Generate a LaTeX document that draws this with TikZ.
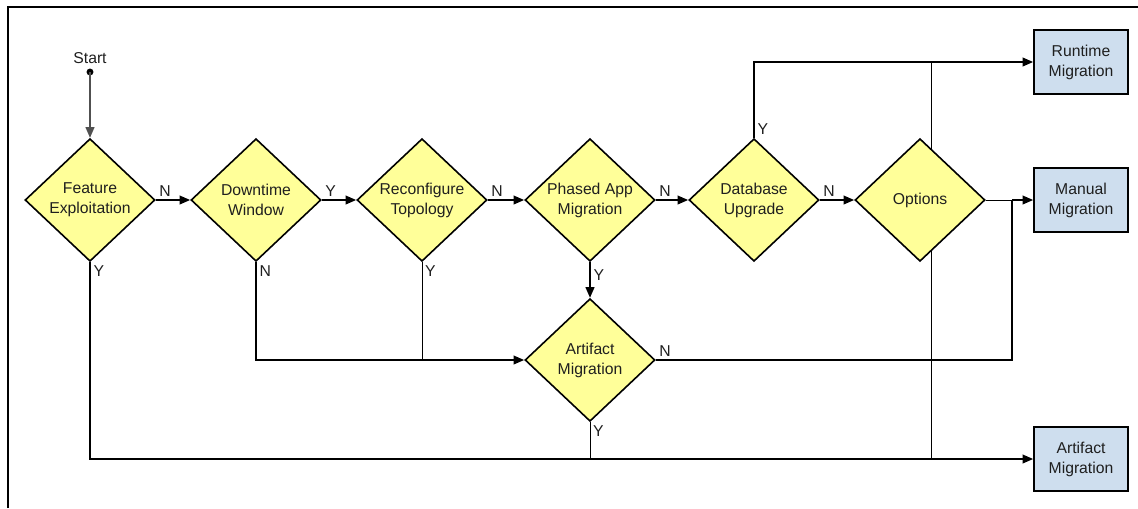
\documentclass[tikz,border=0pt]{standalone}
\usepackage{fontspec}
\setmainfont{Liberation Sans}
\usetikzlibrary{shapes.geometric,arrows.meta}

\definecolor{decfill}{RGB}{255,255,153}
\definecolor{endfill}{RGB}{206,222,238}
\definecolor{startgray}{RGB}{80,80,80}

\tikzset{
  txt/.style={font=\fontsize{11.8}{15}\selectfont, text=black!88},
  decision/.style={txt, diamond, draw, line width=1.2pt, fill=decfill,
    minimum width=97.5pt, minimum height=92pt, inner sep=0pt, align=center},
  outcome/.style={txt, rectangle, draw, line width=1.2pt, fill=endfill,
    minimum width=70.5pt, minimum height=48pt, align=center},
  flow/.style={line width=1.4pt, -{Triangle[length=8pt,width=6.5pt]}},
  path/.style={line width=1.4pt},
  branch/.style={line width=0.75pt},
  lbl/.style={txt, inner sep=2pt}
}

\begin{document}
\begin{tikzpicture}[x=0.75pt, y=-0.75pt]
	\useasboundingbox (0,0) rectangle (1138,508);

	%frame
	\draw[line width=0.9pt] (8,508) -- (8,7) -- (1138,7);

	%options split line, behind the diamond
	\coordinate (opt up) at (931,62);
	\coordinate (opt down) at (931,459);
	\draw[branch] (opt up) -- (opt down);

	%start
	\fill (90,72) circle (2.6pt);
	\coordinate (start) at (90,72);
	\node[lbl, anchor=south] (start lbl) at (90,67) {Start};

	%decisions
	\node[decision] (feature) at (90,200) {Feature\\Exploitation};
	\node[decision] (downtime) at (256,200) {Downtime\\Window};
	\node[decision] (reconf) at (422,200) {Reconfigure\\Topology};
	\node[decision] (phased) at (590,200) {Phased App\\Migration};
	\node[decision] (dbup) at (754,200) {Database\\Upgrade};
	\node[decision] (options) at (920,200) {Options};
	\node[decision] (artdec) at (590,360) {Artifact\\Migration};

	%outcomes
	\node[outcome] (runtime) at (1081,62) {Runtime\\Migration};
	\node[outcome] (manual) at (1081,200) {Manual\\Migration};
	\node[outcome] (artifact) at (1081,459) {Artifact\\Migration};

	%main row
	\draw[flow, draw=startgray, -{Triangle[length=8pt,width=6.5pt,fill=startgray]}] (start) -- (feature.north);
	\draw[flow] (feature.east) -- node[lbl, at start, anchor=south west] {N} (downtime.west);
	\draw[flow] (downtime.east) -- node[lbl, at start, anchor=south west] {Y} (reconf.west);
	\draw[flow] (reconf.east) -- node[lbl, at start, anchor=south west] {N} (phased.west);
	\draw[flow] (phased.east) -- node[lbl, at start, anchor=south west] {N} (dbup.west);
	\draw[flow] (dbup.east) -- node[lbl, at start, anchor=south west] {N} (options.west);

	%runtime
	\draw[flow] (dbup.north) node[lbl, anchor=south west] {Y} |- (runtime.west);

	%manual
	\coordinate (merge) at (1012,200);
	\draw[branch] (options.east) -- (merge);
	\draw[flow] (merge) -- (manual.west);
	\draw[path] (artdec.east) node[lbl, anchor=south west] {N} -| (merge);

	%artifact
	\draw[flow] (feature.south) node[lbl, anchor=north west] {Y} |- (artifact.west);
	\draw[flow] (downtime.south) node[lbl, anchor=north west] {N} |- (artdec.west);
	\draw[branch] (reconf.south) node[lbl, anchor=north west] {Y} -- (reconf.south |- artdec.west);
	\draw[flow] (phased.south) -- node[lbl, pos=0.1, anchor=north west] {Y} (artdec.north);
	\draw[branch] (artdec.south) node[lbl, anchor=north west] {Y} -- (artdec.south |- artifact.west);
\end{tikzpicture}
\end{document}
